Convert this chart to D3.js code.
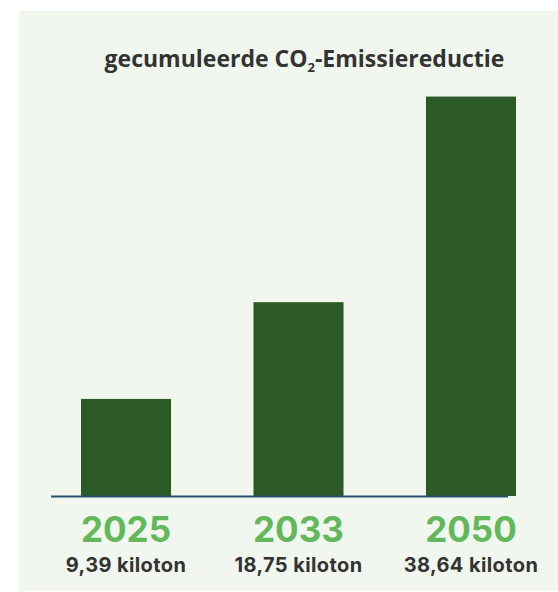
<!DOCTYPE html>
<html>
<head>
<meta charset="utf-8">
<script src="https://cdn.jsdelivr.net/npm/d3@7"></script>
<style>
  html, body { margin: 0; padding: 0; background: #ffffff; }
  svg { display: block; }
</style>
</head>
<body>
<svg id="chart" width="558" height="592"></svg>
<script>
const years = ["2025", "2033", "2050"];
const values = [9.39, 18.75, 38.64];
const valueLabels = ["9,39 kiloton", "18,75 kiloton", "38,64 kiloton"];
const titleMain = "gecumuleerde CO";
const titleSub = "2";
const titleRest = "-Emissiereductie";

const svg = d3.select("#chart");
const W = 558, H = 592;

// panel
svg.append("rect").attr("x", 19).attr("y", 11).attr("width", W - 19).attr("height", 580)
  .attr("fill", "#f1f6ef");

const baseY = 496;
const x = d3.scaleBand().domain(years).range([81, 516]).paddingInner(0.478).paddingOuter(0);
const y = d3.scaleLinear().domain([0, 40]).range([baseY, baseY - 413.5]);

svg.append("g").selectAll("rect").data(values).join("rect")
  .attr("x", (d, i) => x(years[i]))
  .attr("width", x.bandwidth())
  .attr("y", d => y(d))
  .attr("height", d => y(0) - y(d))
  .attr("fill", "#2b5a27");

// axis line
const axis = d3.axisBottom(x).tickSize(0).tickFormat("");
const ag = svg.append("g").attr("transform", `translate(0,${baseY})`).call(axis);
ag.select(".domain").remove();
ag.append("line").attr("x1", 51).attr("x2", 508).attr("y1", 0.5).attr("y2", 0.5)
  .attr("stroke", "#25526a").attr("stroke-width", 2);

// year labels
svg.append("g").selectAll("text").data(years).join("text")
  .attr("x", d => x(d) + x.bandwidth() / 2)
  .attr("y", 541.5)
  .attr("text-anchor", "middle")
  .attr("font-family", "Inter, Lato, sans-serif")
  .attr("font-weight", 700)
  .attr("font-size", 35)
  .attr("fill", "#62b85a")
  .text(d => d);

svg.append("g").selectAll("text").data(valueLabels).join("text")
  .attr("x", (d, i) => x(years[i]) + x.bandwidth() / 2)
  .attr("y", 571.5)
  .attr("text-anchor", "middle")
  .attr("font-family", "Inter, Lato, sans-serif")
  .attr("font-weight", 700)
  .attr("font-size", 20)
  .attr("letter-spacing", 0.4)
  .attr("fill", "#333333")
  .text(d => d);

// title
const t = svg.append("text")
  .attr("x", 304.5).attr("y", 66.5)
  .attr("text-anchor", "middle")
  .attr("font-family", "'Open Sans', sans-serif")
  .attr("font-weight", 700)
  .attr("font-size", 23)
  .attr("fill", "#333333");
t.append("tspan").text(titleMain);
t.append("tspan").attr("font-size", 13).attr("dy", 5).text(titleSub);
t.append("tspan").attr("dy", -5).text(titleRest);
</script>
</body>
</html>
